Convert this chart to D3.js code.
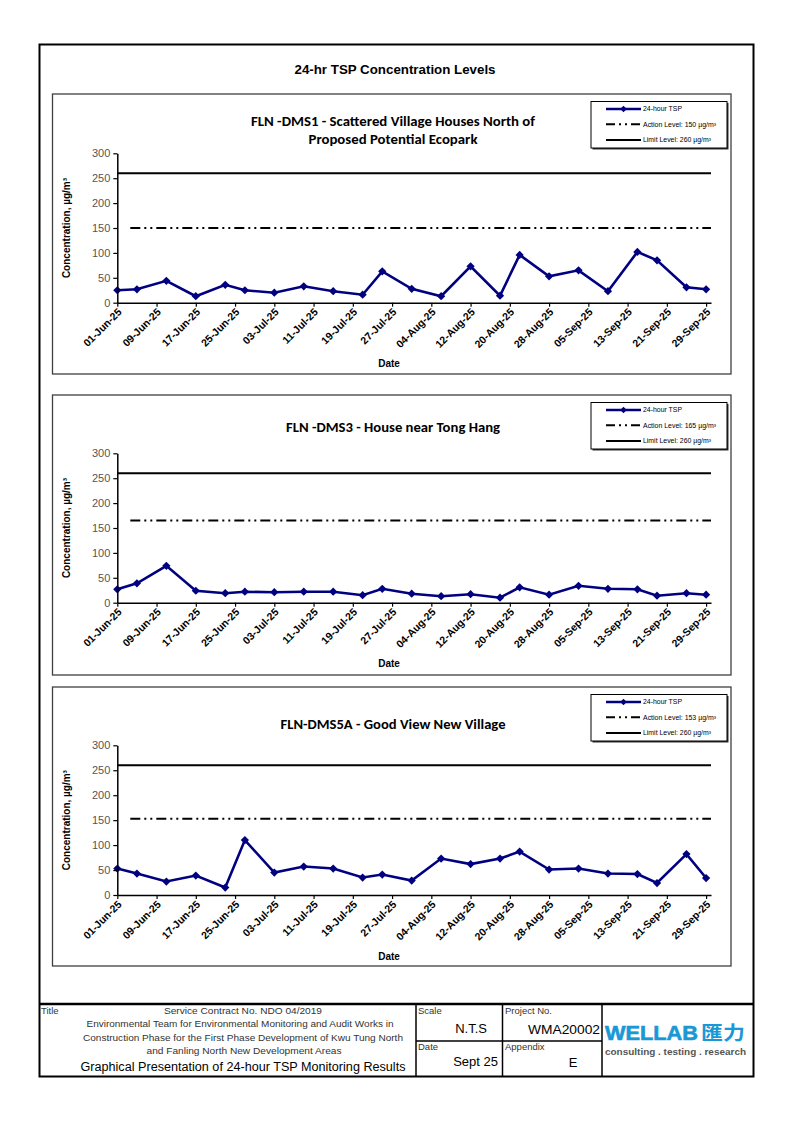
<!DOCTYPE html>
<html><head><meta charset="utf-8">
<script src="https://cdn.jsdelivr.net/npm/d3@7"></script>
<style>body{margin:0;background:#fff}svg{display:block}</style>
</head><body>
<svg id="c" width="794" height="1123"></svg>
<script>
// ---------------- DATA ----------------
const sampleDates = ["2025-06-01","2025-06-05","2025-06-11","2025-06-17","2025-06-23","2025-06-27","2025-07-03","2025-07-09","2025-07-15","2025-07-21","2025-07-25","2025-07-31","2025-08-06","2025-08-12","2025-08-18","2025-08-22","2025-08-28","2025-09-03","2025-09-09","2025-09-15","2025-09-19","2025-09-25","2025-09-29"];
const dms1Values  = [25, 27, 44, 13, 36, 25, 20, 33, 23, 16, 63, 28, 13, 73, 14, 96, 53, 65, 23, 102, 85, 31, 27];
const dms3Values  = [27, 39, 74, 24, 19, 22, 21, 22, 22, 15, 28, 18, 13, 17, 10, 31, 16, 34, 28, 27, 14, 19, 16];
const dms5aValues = [53, 43, 27, 39, 15, 110, 45, 57, 53, 35, 41, 29, 73, 62, 73, 87, 51, 53, 43, 42, 24, 82, 34];
const stationTitles = [
  ["FLN -DMS1 - Scattered Village Houses North of", "Proposed Potential Ecopark"],
  ["FLN -DMS3 - House near Tong Hang"],
  ["FLN-DMS5A - Good View New Village"]
];
const actionLevels = [150, 165, 153];
const limitLevel = 260;
const xTickLabels = ["01-Jun-25","09-Jun-25","17-Jun-25","25-Jun-25","03-Jul-25","11-Jul-25","19-Jul-25","27-Jul-25","04-Aug-25","12-Aug-25","20-Aug-25","28-Aug-25","05-Sep-25","13-Sep-25","21-Sep-25","29-Sep-25"];
const yTicks = [0, 50, 100, 150, 200, 250, 300];
const axisStart = "2025-06-01", axisEnd = "2025-09-30";
const seriesName = "24-hour TSP";

// ---------------- LAYOUT ----------------
const svg = d3.select("#c");
const FONT = "'Liberation Sans', Arial, sans-serif";
const TFONT = "Carlito, 'Liberation Sans Narrow', Lato, sans-serif";
const NAVY = "#000080";
const parseISO = d3.timeParse("%Y-%m-%d");
const parseTick = d3.timeParse("%d-%b-%y");

function txt(g, x, y, s, o = {}) {
  const t = g.append("text").attr("x", x).attr("y", y).text(s)
    .attr("font-family", o.family || FONT)
    .attr("font-size", o.size || 10)
    .attr("font-weight", o.weight || "normal")
    .attr("fill", o.fill || "#000")
    .attr("text-anchor", o.anchor || "start");
  if (o.width) t.attr("textLength", o.width).attr("lengthAdjust", "spacingAndGlyphs");
  return t;
}

// Outer frame
svg.append("rect").attr("x", 39.5).attr("y", 44.5).attr("width", 714).attr("height", 1032)
  .attr("fill", "none").attr("stroke", "#000").attr("stroke-width", 2);
svg.append("line").attr("x1", 39.5).attr("x2", 753.5).attr("y1", 1004).attr("y2", 1004)
  .attr("stroke", "#000").attr("stroke-width", 2.5);

txt(svg, 395, 73.5, "24-hr TSP Concentration Levels", {size: 12, weight: "bold", anchor: "middle", width: 201});

const layouts = [
  {top: 94,  bottom: 374, y300: 153.3, y0: 302.7, titleY: [125.5, 143.8], titleW: [284, 169]},
  {top: 395, bottom: 675, y300: 453.3, y0: 602.7, titleY: [431.5], titleW: [214]},
  {top: 687, bottom: 966, y300: 745.3, y0: 895.0, titleY: [729], titleW: [225]}
];
const seriesValues = [dms1Values, dms3Values, dms5aValues];
const DASH = "10,4,2,4,2,4";

layouts.forEach((L, i) => {
  const g = svg.append("g");
  g.append("rect").attr("x", 52.5).attr("y", L.top).attr("width", 678.5).attr("height", L.bottom - L.top)
    .attr("fill", "#fff").attr("stroke", "#404040").attr("stroke-width", 1.3);

  const x = d3.scaleTime().domain([parseISO(axisStart), parseISO(axisEnd)]).range([117.3, 711]);
  const y = d3.scaleLinear().domain([0, 300]).range([L.y0, L.y300]);

  stationTitles[i].forEach((s, k) => {
    txt(g, 393, L.titleY[k], s, {family: TFONT, size: 13.5, weight: "bold", anchor: "middle", width: L.titleW[k]});
  });

  g.append("line").attr("x1", x.range()[0]).attr("x2", x.range()[1])
    .attr("y1", y(limitLevel)).attr("y2", y(limitLevel))
    .attr("stroke", "#000").attr("stroke-width", 2);
  g.append("line").attr("x1", x.range()[0] + 13).attr("x2", x.range()[1])
    .attr("y1", y(actionLevels[i])).attr("y2", y(actionLevels[i]))
    .attr("stroke", "#000").attr("stroke-width", 2).attr("stroke-dasharray", DASH);

  const pts = sampleDates.map((d, k) => ({d: parseISO(d), v: seriesValues[i][k]}));
  g.append("path").datum(pts)
    .attr("d", d3.line().x(p => x(p.d)).y(p => y(p.v)))
    .attr("fill", "none").attr("stroke", NAVY).attr("stroke-width", 2.6).attr("stroke-linejoin", "miter");
  g.selectAll(".m").data(pts).enter().append("path")
    .attr("d", d3.symbol(d3.symbolSquare, 34)())
    .attr("transform", p => `translate(${x(p.d)},${y(p.v)}) rotate(45)`)
    .attr("fill", NAVY);

  const ya = g.append("g").attr("transform", `translate(${x.range()[0]},0)`)
    .call(d3.axisLeft(y).tickValues(yTicks).tickSize(4).tickSizeOuter(0).tickPadding(3));
  ya.select(".domain").attr("stroke", "#000").attr("stroke-width", 1.5);
  ya.selectAll(".tick line").attr("stroke", "#000").attr("stroke-width", 1.2);
  ya.selectAll(".tick text").attr("font-family", FONT).attr("font-size", 11).attr("fill", "#555");

  const xa = g.append("g").attr("transform", `translate(0,${L.y0})`)
    .call(d3.axisBottom(x).tickValues(xTickLabels.map(parseTick)).tickSize(4).tickSizeOuter(0)
      .tickFormat((d, k) => xTickLabels[k]));
  xa.select(".domain").attr("stroke", "#000").attr("stroke-width", 1.5);
  xa.selectAll(".tick line").attr("stroke", "#000").attr("stroke-width", 1.2);
  xa.selectAll(".tick text").attr("font-family", FONT).attr("font-size", 10.5).attr("font-weight", "bold")
    .attr("fill", "#000").attr("text-anchor", "end").attr("dy", null).attr("y", null)
    .attr("transform", "translate(4.5,10) rotate(-45)");

  txt(g, 0, 0, "Concentration, µg/m³", {size: 10, weight: "bold", anchor: "middle"})
    .attr("transform", `translate(69.5,${(L.y0 + L.y300) / 2}) rotate(-90)`);
  txt(g, 389, L.y0 + 64.5, "Date", {size: 10, weight: "bold", anchor: "middle"});

  const lx = 591, ly = L.top + 7.5, lw = 136, lh = 46.5;
  g.append("rect").attr("x", lx + 1.5).attr("y", ly + 1.5).attr("width", lw).attr("height", lh).attr("fill", "#333");
  g.append("rect").attr("x", lx).attr("y", ly).attr("width", lw).attr("height", lh)
    .attr("fill", "#fff").attr("stroke", "#000").attr("stroke-width", 1);
  const rows = [7.5, 22.8, 38.4].map(o => ly + o);
  const legendTexts = [seriesName, `Action Level: ${actionLevels[i]} µg/m³`, `Limit Level: ${limitLevel} µg/m³`];
  g.append("line").attr("x1", 606).attr("x2", 641).attr("y1", rows[0]).attr("y2", rows[0])
    .attr("stroke", NAVY).attr("stroke-width", 2.4);
  g.append("path").attr("d", d3.symbol(d3.symbolSquare, 22)())
    .attr("transform", `translate(623.5,${rows[0]}) rotate(45)`).attr("fill", NAVY);
  g.append("line").attr("x1", 606).attr("x2", 641).attr("y1", rows[1]).attr("y2", rows[1])
    .attr("stroke", "#000").attr("stroke-width", 2).attr("stroke-dasharray", "9,4,2,4,2,4");
  g.append("line").attr("x1", 606).attr("x2", 641).attr("y1", rows[2]).attr("y2", rows[2])
    .attr("stroke", "#000").attr("stroke-width", 2);
  const lwid = [39, 73, 68];
  legendTexts.forEach((s, k) => txt(g, 643, rows[k] + 2.4, s, {size: 6.8, width: lwid[k]}));
});

// ---------------- TITLE BLOCK ----------------
const tb = svg.append("g");
[416, 502.5, 602].forEach(xv => tb.append("line").attr("x1", xv).attr("x2", xv).attr("y1", 1004).attr("y2", 1077)
  .attr("stroke", "#000").attr("stroke-width", 1.5));
tb.append("line").attr("x1", 416).attr("x2", 602).attr("y1", 1041).attr("y2", 1041)
  .attr("stroke", "#000").attr("stroke-width", 1.5);

const GREY = "#333";
txt(tb, 41, 1014, "Title", {size: 9.5, fill: GREY});
txt(tb, 243, 1013.5, "Service Contract No. NDO 04/2019", {size: 9.5, fill: GREY, anchor: "middle", width: 158});
txt(tb, 240, 1027, "Environmental Team for Environmental Monitoring and Audit Works in", {size: 9.5, fill: GREY, anchor: "middle", width: 307});
txt(tb, 243, 1040.5, "Construction Phase for the First Phase Development of Kwu Tung North", {size: 9.5, fill: GREY, anchor: "middle", width: 320});
txt(tb, 244, 1053.5, "and Fanling North New Development Areas", {size: 9.5, fill: GREY, anchor: "middle", width: 195});
txt(tb, 243, 1070.5, "Graphical Presentation of 24-hour TSP Monitoring Results", {size: 12, anchor: "middle", width: 325});

txt(tb, 418, 1014, "Scale", {size: 9.5, fill: GREY});
txt(tb, 487, 1033, "N.T.S", {size: 13, anchor: "end"});
txt(tb, 418, 1050, "Date", {size: 9.5, fill: GREY});
txt(tb, 498, 1066, "Sept 25", {size: 13, anchor: "end"});
txt(tb, 505, 1014, "Project No.", {size: 9.5, fill: GREY});
txt(tb, 600, 1034, "WMA20002", {size: 13, anchor: "end", width: 72});
txt(tb, 505, 1050, "Appendix", {size: 9.5, fill: GREY});
txt(tb, 573, 1067, "E", {size: 13, anchor: "middle"});

const BLUE = "#1a98d5";
txt(tb, 605, 1040, "WELLAB", {size: 19.5, weight: "bold", fill: BLUE, width: 93}).attr("stroke", BLUE).attr("stroke-width", 0.6);
txt(tb, 701, 1040, "匯力", {family: "'Noto Sans CJK TC', 'Noto Sans CJK SC', sans-serif", size: 19, weight: "bold", fill: BLUE, width: 44});
txt(tb, 605, 1055, "consulting . testing . research", {size: 8.5, weight: "bold", fill: "#555", width: 141});
</script>
</body></html>
